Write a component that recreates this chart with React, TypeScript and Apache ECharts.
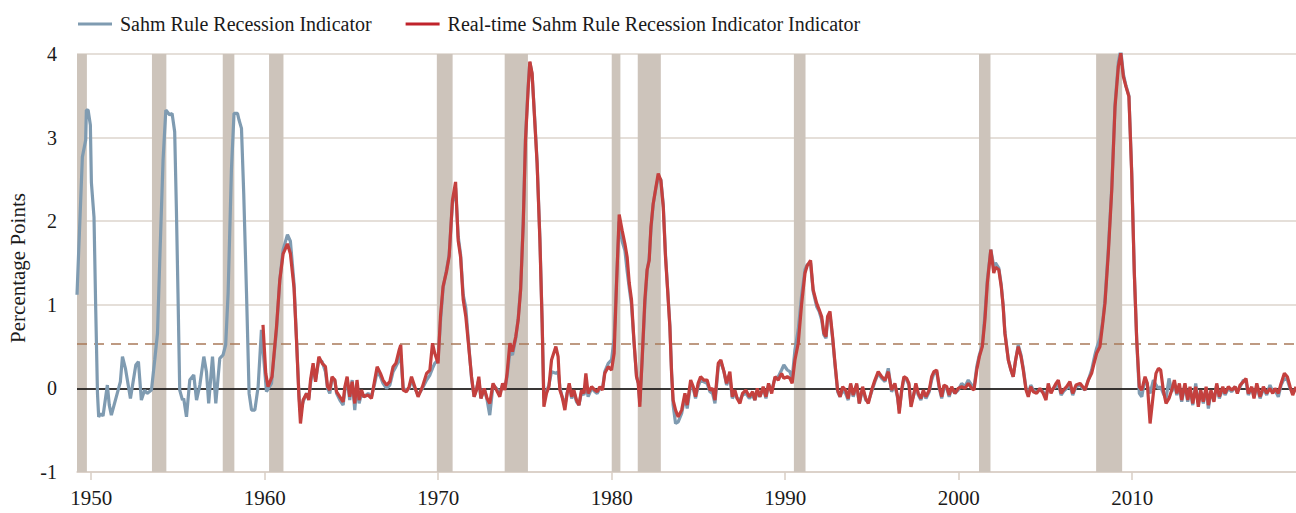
import React, { useEffect, useRef } from "react";
import * as echarts from "echarts";

// ---- Data (decimal years) ----
const sahmEarlyYears = [1949.18, 1949.49, 1949.68, 1949.72, 1949.82, 1949.95, 1950.01, 1950.16, 1950.26, 1950.36, 1950.43, 1950.55, 1950.68, 1950.93, 1951.04, 1951.16, 1951.55, 1951.68, 1951.80, 1951.97, 1952.26, 1952.57, 1952.72, 1952.89, 1953.08, 1953.22, 1953.47, 1953.66, 1953.82, 1953.95, 1954.14, 1954.30, 1954.53, 1954.66, 1954.81, 1954.91, 1955.00, 1955.10, 1955.26, 1955.33, 1955.49, 1955.68, 1955.91, 1956.07, 1956.26, 1956.49, 1956.64, 1956.77, 1956.99, 1957.18, 1957.41, 1957.60, 1957.75, 1957.89, 1958.08, 1958.23, 1958.43, 1958.52, 1958.66, 1958.79, 1958.95, 1959.10, 1959.24, 1959.43, 1959.62, 1959.81, 1960.10, 1960.39];
const sahmEarlyValues = [1.12, 2.77, 2.97, 3.33, 3.33, 3.15, 2.46, 2.05, 0.94, -0.06, -0.34, -0.30, -0.33, 0.04, -0.20, -0.32, -0.02, 0.08, 0.38, 0.24, -0.12, 0.28, 0.32, -0.14, -0.02, -0.06, -0.02, 0.34, 0.66, 1.53, 2.73, 3.33, 3.27, 3.29, 3.07, 2.13, 1.14, -0.02, -0.14, -0.12, -0.34, 0.10, 0.16, -0.14, 0.04, 0.38, 0.20, -0.18, 0.38, -0.18, 0.36, 0.40, 0.52, 1.14, 2.61, 3.29, 3.29, 3.21, 3.11, 2.33, 1.14, -0.06, -0.26, -0.26, 0.02, 0.70, -0.04, 0.06];

const realtimeEarlyYears = [1959.90, 1960.06, 1960.19, 1960.42];
const realtimeEarlyValues = [0.76, 0.18, 0.02, 0.14];

const sharedYears = [1960.68, 1960.87, 1961.06, 1961.31, 1961.48, 1961.69, 1961.83, 1961.98, 1962.06, 1962.21, 1962.41, 1962.54, 1962.64, 1962.79, 1962.93, 1963.12, 1963.31, 1963.50, 1963.62, 1963.75, 1963.88, 1964.04, 1964.14, 1964.33, 1964.52, 1964.62, 1964.75, 1964.90, 1965.04, 1965.19, 1965.32, 1965.44, 1965.58, 1965.71, 1965.96, 1966.15, 1966.34, 1966.48, 1966.67, 1966.82, 1967.02, 1967.21, 1967.40, 1967.56, 1967.75, 1967.84, 1967.98, 1968.17, 1968.32, 1968.46, 1968.65, 1968.84, 1969.09, 1969.33, 1969.52, 1969.67, 1969.80, 1969.99, 1970.13, 1970.28, 1970.48, 1970.63, 1970.82, 1971.00, 1971.15, 1971.29, 1971.44, 1971.59, 1971.72, 1971.92, 1972.07, 1972.21, 1972.34, 1972.46, 1972.65, 1972.82, 1972.97, 1973.16, 1973.36, 1973.55, 1973.71, 1973.84, 1973.97, 1974.13, 1974.28, 1974.47, 1974.61, 1974.75, 1974.90, 1975.03, 1975.18, 1975.28, 1975.41, 1975.57, 1975.70, 1975.86, 1975.99, 1976.09, 1976.24, 1976.38, 1976.53, 1976.78, 1976.91, 1977.01, 1977.14, 1977.30, 1977.43, 1977.55, 1977.69, 1977.82, 1977.97, 1978.11, 1978.26, 1978.40, 1978.51, 1978.64, 1978.84, 1979.03, 1979.16, 1979.32, 1979.47, 1979.60, 1979.80, 1979.99, 1980.14, 1980.28, 1980.43, 1980.60, 1980.76, 1980.89, 1981.01, 1981.14, 1981.28, 1981.43, 1981.53, 1981.62, 1981.76, 1981.91, 1982.04, 1982.16, 1982.26, 1982.39, 1982.55, 1982.68, 1982.83, 1982.97, 1983.10, 1983.22, 1983.35, 1983.45, 1983.54, 1983.68, 1983.83, 1984.03, 1984.22, 1984.35, 1984.55, 1984.70, 1984.83, 1984.98, 1985.12, 1985.31, 1985.50, 1985.66, 1985.81, 1985.95, 1986.14, 1986.29, 1986.47, 1986.62, 1986.81, 1986.95, 1987.10, 1987.23, 1987.39, 1987.54, 1987.73, 1987.93, 1988.12, 1988.25, 1988.39, 1988.54, 1988.73, 1988.89, 1989.04, 1989.22, 1989.41, 1989.60, 1989.79, 1989.92, 1990.12, 1990.27, 1990.40, 1990.56, 1990.75, 1990.95, 1991.14, 1991.27, 1991.46, 1991.61, 1991.81, 1991.96, 1992.10, 1992.23, 1992.35, 1992.44, 1992.58, 1992.73, 1992.87, 1993.02, 1993.16, 1993.31, 1993.48, 1993.63, 1993.77, 1993.92, 1994.12, 1994.27, 1994.46, 1994.64, 1994.79, 1994.98, 1995.17, 1995.36, 1995.56, 1995.75, 1995.94, 1996.13, 1996.32, 1996.48, 1996.57, 1996.71, 1996.84, 1997.00, 1997.13, 1997.25, 1997.38, 1997.53, 1997.67, 1997.82, 1997.96, 1998.11, 1998.30, 1998.44, 1998.57, 1998.73, 1998.88, 1999.02, 1999.15, 1999.31, 1999.45, 1999.59, 1999.78, 1999.97, 2000.17, 2000.36, 2000.55, 2000.75, 2000.88, 2001.04, 2001.19, 2001.36, 2001.51, 2001.65, 2001.85, 2002.02, 2002.12, 2002.31, 2002.45, 2002.56, 2002.66, 2002.86, 2003.01, 2003.14, 2003.28, 2003.43, 2003.59, 2003.72, 2003.88, 2004.01, 2004.15, 2004.30, 2004.49, 2004.68, 2004.87, 2005.03, 2005.16, 2005.32, 2005.45, 2005.61, 2005.74, 2005.90, 2006.03, 2006.22, 2006.41, 2006.57, 2006.76, 2006.99, 2007.15, 2007.28, 2007.47, 2007.66, 2007.85, 2007.95, 2008.14, 2008.30, 2008.43, 2008.62, 2008.82, 2009.01, 2009.20, 2009.34, 2009.49, 2009.64, 2009.81, 2009.97, 2010.12, 2010.26, 2010.41, 2010.55, 2010.74, 2010.87, 2011.03, 2011.22, 2011.37, 2011.51, 2011.64, 2011.79, 2011.95, 2012.12, 2012.28, 2012.43, 2012.57, 2012.72, 2012.85, 2013.04, 2013.20, 2013.33, 2013.49, 2013.66, 2013.81, 2013.95, 2014.10, 2014.26, 2014.39, 2014.54, 2014.71, 2014.87, 2015.02, 2015.22, 2015.35, 2015.54, 2015.74, 2015.93, 2016.06, 2016.22, 2016.41, 2016.56, 2016.69, 2016.89, 2017.02, 2017.18, 2017.37, 2017.56, 2017.75, 2017.94, 2018.10, 2018.23, 2018.42, 2018.58, 2018.77, 2018.94, 2019.10, 2019.25, 2019.44];

const realtimeValues = [0.74, 1.30, 1.61, 1.73, 1.61, 1.20, 0.58, -0.14, -0.42, -0.14, -0.06, -0.14, 0.10, 0.30, 0.08, 0.38, 0.30, 0.26, 0.02, -0.02, 0.14, 0.10, -0.04, -0.10, -0.16, 0.02, 0.14, -0.10, 0.08, -0.18, 0.10, -0.14, -0.02, -0.10, -0.08, -0.12, 0.10, 0.26, 0.18, 0.10, 0.04, 0.08, 0.26, 0.30, 0.46, 0.52, -0.02, -0.04, 0.02, 0.14, 0.02, -0.10, 0.02, 0.18, 0.22, 0.54, 0.42, 0.30, 0.86, 1.22, 1.40, 1.58, 2.25, 2.47, 1.77, 1.57, 1.06, 0.86, 0.58, 0.14, -0.10, -0.02, 0.14, -0.12, 0.00, -0.12, -0.18, 0.06, -0.02, -0.10, 0.06, -0.02, 0.18, 0.54, 0.44, 0.62, 0.82, 1.18, 1.97, 2.97, 3.57, 3.91, 3.77, 3.17, 2.69, 1.77, 0.78, -0.22, -0.06, 0.02, 0.34, 0.50, 0.38, -0.02, -0.10, -0.26, -0.06, 0.06, -0.10, -0.02, -0.14, -0.20, -0.02, -0.06, 0.18, -0.06, 0.02, -0.02, -0.04, 0.02, -0.02, 0.18, 0.26, 0.22, 0.42, 1.26, 2.08, 1.89, 1.73, 1.57, 1.26, 1.06, 0.58, 0.14, 0.06, -0.22, 0.38, 1.06, 1.42, 1.53, 1.93, 2.21, 2.41, 2.57, 2.49, 2.17, 1.57, 1.18, 0.74, 0.18, -0.14, -0.26, -0.34, -0.26, -0.06, -0.20, 0.10, 0.02, -0.10, 0.06, 0.14, 0.10, 0.10, -0.02, 0.00, -0.14, 0.30, 0.34, 0.20, 0.06, 0.20, -0.10, -0.02, -0.12, -0.18, -0.06, -0.02, -0.10, -0.04, -0.14, 0.00, -0.10, 0.02, -0.10, 0.06, -0.06, 0.14, 0.10, 0.18, 0.12, 0.14, 0.12, 0.06, 0.34, 0.54, 1.02, 1.38, 1.47, 1.53, 1.18, 1.02, 0.94, 0.86, 0.66, 0.62, 0.86, 0.92, 0.62, 0.30, -0.02, -0.10, 0.02, -0.02, -0.12, 0.06, -0.08, 0.06, -0.18, 0.02, -0.12, -0.18, -0.02, 0.10, 0.20, 0.14, 0.10, 0.20, -0.02, 0.06, -0.10, -0.30, -0.02, 0.14, 0.12, 0.06, -0.22, -0.10, 0.06, -0.06, -0.12, -0.02, -0.10, -0.02, 0.14, 0.20, 0.22, 0.02, -0.10, 0.04, 0.02, -0.08, 0.02, -0.06, 0.00, 0.02, 0.00, 0.06, 0.00, -0.02, 0.22, 0.38, 0.50, 0.82, 1.26, 1.66, 1.38, 1.45, 1.42, 1.22, 0.98, 0.66, 0.34, 0.22, 0.14, 0.34, 0.50, 0.38, 0.22, -0.02, -0.10, 0.02, -0.04, -0.06, 0.00, -0.06, -0.14, 0.06, -0.06, 0.00, 0.06, 0.10, -0.06, -0.02, 0.02, 0.08, -0.06, 0.04, 0.06, 0.02, -0.02, 0.10, 0.18, 0.34, 0.42, 0.50, 0.78, 1.02, 1.61, 2.37, 3.37, 3.85, 4.01, 3.73, 3.61, 3.49, 2.57, 1.38, 0.58, 0.02, -0.02, 0.14, 0.06, -0.42, -0.06, 0.18, 0.24, 0.22, -0.02, -0.18, -0.12, -0.02, 0.10, -0.06, 0.06, -0.14, 0.06, -0.14, 0.02, -0.18, 0.02, -0.22, -0.02, -0.16, 0.02, -0.20, -0.02, -0.16, 0.06, -0.10, 0.02, -0.06, 0.02, -0.02, 0.02, -0.06, 0.04, 0.08, 0.12, -0.06, 0.02, -0.12, 0.06, -0.10, 0.02, -0.06, 0.00, -0.06, 0.00, -0.06, 0.06, 0.18, 0.14, 0.02, -0.08, 0.02];

const sahmValues = [0.70, 1.30, 1.66, 1.84, 1.76, 1.25, 0.60, -0.10, -0.28, -0.16, -0.06, -0.12, 0.06, 0.26, 0.10, 0.34, 0.32, 0.20, 0.00, -0.06, 0.12, 0.10, -0.06, -0.14, -0.20, -0.02, 0.10, -0.14, 0.10, -0.26, 0.06, -0.18, -0.06, -0.10, -0.06, -0.10, 0.06, 0.20, 0.14, 0.06, 0.00, 0.04, 0.20, 0.26, 0.34, 0.40, 0.00, -0.02, 0.00, 0.10, 0.00, -0.08, 0.00, 0.10, 0.16, 0.24, 0.30, 0.34, 0.80, 1.20, 1.42, 1.60, 2.22, 2.40, 1.82, 1.60, 1.12, 0.96, 0.62, 0.12, -0.10, 0.00, 0.10, -0.12, 0.00, -0.14, -0.32, 0.04, 0.00, -0.06, 0.04, 0.00, 0.14, 0.44, 0.40, 0.60, 0.84, 1.20, 2.00, 3.00, 3.60, 3.90, 3.76, 3.20, 2.70, 1.80, 0.80, -0.12, -0.04, 0.04, 0.20, 0.18, 0.20, 0.02, -0.10, -0.20, -0.06, 0.04, -0.12, -0.04, -0.16, -0.20, -0.04, -0.08, 0.06, -0.10, 0.00, -0.04, -0.06, 0.00, 0.00, 0.20, 0.30, 0.34, 0.60, 1.30, 2.00, 1.76, 1.65, 1.40, 1.20, 1.00, 0.56, 0.14, 0.06, -0.16, 0.36, 1.00, 1.40, 1.56, 1.90, 2.20, 2.40, 2.52, 2.50, 2.20, 1.60, 1.20, 0.76, 0.20, -0.20, -0.42, -0.40, -0.30, -0.10, -0.24, 0.04, 0.00, -0.12, 0.02, 0.10, 0.08, 0.06, -0.04, -0.06, -0.18, 0.26, 0.32, 0.20, 0.04, 0.14, -0.12, -0.06, -0.12, -0.14, -0.08, -0.06, -0.12, -0.08, -0.14, -0.04, -0.10, 0.00, -0.12, 0.04, -0.02, 0.12, 0.14, 0.22, 0.28, 0.22, 0.20, 0.12, 0.46, 0.70, 1.12, 1.42, 1.48, 1.50, 1.16, 0.98, 0.92, 0.82, 0.64, 0.60, 0.82, 0.88, 0.60, 0.28, -0.04, -0.10, -0.02, -0.06, -0.14, 0.04, -0.10, 0.04, -0.18, 0.00, -0.14, -0.16, -0.04, 0.08, 0.18, 0.12, 0.08, 0.24, -0.04, 0.04, -0.12, -0.26, -0.04, 0.12, 0.10, 0.04, -0.18, -0.10, 0.02, -0.08, -0.14, -0.04, -0.12, -0.04, 0.10, 0.18, 0.20, 0.00, -0.12, 0.00, 0.00, -0.10, 0.00, -0.06, -0.02, 0.06, 0.02, 0.10, 0.04, 0.00, 0.26, 0.40, 0.52, 0.88, 1.30, 1.66, 1.46, 1.50, 1.44, 1.24, 1.00, 0.68, 0.34, 0.22, 0.14, 0.34, 0.52, 0.40, 0.24, 0.00, -0.08, 0.04, -0.02, -0.04, -0.02, -0.04, -0.10, 0.02, -0.04, 0.00, 0.02, 0.06, -0.08, -0.04, 0.00, 0.04, -0.08, 0.02, 0.04, 0.00, -0.02, 0.10, 0.22, 0.40, 0.48, 0.60, 0.80, 1.06, 1.66, 2.40, 3.40, 3.90, 4.05, 3.76, 3.62, 3.50, 2.60, 1.40, 0.56, -0.06, -0.10, 0.12, 0.04, -0.06, 0.10, 0.04, 0.00, 0.02, -0.06, -0.12, 0.12, -0.04, 0.06, -0.08, 0.02, -0.16, 0.04, -0.16, 0.00, -0.20, 0.06, -0.18, -0.04, -0.18, 0.00, -0.24, -0.04, -0.14, 0.04, -0.12, 0.00, -0.08, 0.00, -0.04, 0.02, -0.04, 0.02, 0.10, 0.08, -0.08, 0.00, -0.10, 0.02, -0.12, 0.00, -0.08, 0.04, -0.04, -0.02, -0.10, 0.04, 0.12, 0.10, 0.00, -0.06, 0.00];

// NBER recessions (decimal years)
const recessionStarts = [1948.83, 1953.5, 1957.58, 1960.25, 1969.92, 1973.83, 1980.0, 1981.5, 1990.5, 2001.17, 2007.92];
const recessionEnds = [1949.75, 1954.33, 1958.25, 1961.08, 1970.83, 1975.17, 1980.5, 1982.83, 1991.17, 2001.83, 2009.42];

const xTickYears = [1950, 1960, 1970, 1980, 1990, 2000, 2010];
const yMin = -1;
const yMax = 4;
const thresholdValue = 0.53;

const X_MIN = 1949.18;
const X_MAX = 2019.44;

const FONT = "'Liberation Serif', 'DejaVu Serif', serif";

export default function App() {
  const ref = useRef<HTMLDivElement>(null);

  useEffect(() => {
    if (!ref.current) return;
    const chart = echarts.init(ref.current, null, { renderer: "svg" });

    const sahmData: [number, number][] = [];
    sahmEarlyYears.forEach((y, i) => sahmData.push([y, sahmEarlyValues[i]]));
    sharedYears.forEach((y, i) => sahmData.push([y, sahmValues[i]]));

    const rtData: [number, number][] = [];
    realtimeEarlyYears.forEach((y, i) => rtData.push([y, realtimeEarlyValues[i]]));
    sharedYears.forEach((y, i) => rtData.push([y, realtimeValues[i]]));

    const areas = recessionStarts.map((s, i) => [
      { xAxis: Math.max(s, X_MIN) },
      { xAxis: recessionEnds[i] },
    ]);

    chart.setOption({
      animation: false,
      backgroundColor: "#ffffff",
      textStyle: { fontFamily: FONT },
      grid: { left: 77, right: 0, top: 54, bottom: 41, containLabel: false, outerBoundsMode: "none" },
      legend: {
        top: 9,
        left: 73,
        icon: "rect",
        itemWidth: 34,
        itemHeight: 3,
        itemGap: 34,
        textStyle: { fontFamily: FONT, fontSize: 20, color: "#1a1a1a", padding: [0, 0, 0, 3] },
        data: ["Sahm Rule Recession Indicator", "Real-time Sahm Rule Recession Indicator Indicator"],
      },
      graphic: [
        {
          type: "text",
          x: 18,
          y: 268,
          rotation: Math.PI / 2,
          style: {
            text: "Percentage Points",
            font: "21px 'Liberation Serif', serif",
            fill: "#1a1a1a",
            align: "center",
            verticalAlign: "middle",
          },
        },
      ],
      xAxis: {
        type: "value",
        min: X_MIN,
        max: X_MAX,
        axisLine: { show: true, onZero: false, lineStyle: { color: "#d9cec5", width: 1.5 } },
        axisTick: {
          show: true,
          length: 8,
          customValues: xTickYears,
          lineStyle: { color: "#d9cec5", width: 1.5 },
        },
        axisLabel: {
          customValues: xTickYears,
          formatter: (v: number) => String(Math.round(v)),
          fontFamily: FONT,
          fontSize: 21,
          color: "#1a1a1a",
          margin: 15,
        },
        splitLine: { show: false },
      },
      yAxis: {
        type: "value",
        min: yMin,
        max: yMax,
        interval: 1,
        axisLine: { show: false },
        axisTick: { show: false },
        axisLabel: { fontFamily: FONT, fontSize: 20, color: "#1a1a1a", margin: 20 },
        splitLine: { show: true, lineStyle: { color: "#ddd4cc", width: 1.5 } },
      },
      series: [
        {
          name: "Sahm Rule Recession Indicator",
          type: "line",
          data: sahmData,
          showSymbol: false,
          symbol: "none",
          color: "#7f9bb1",
          lineStyle: { color: "#7f9bb1", width: 3.2 },
          z: 3,
          markArea: {
            silent: true,
            z: 1,
            itemStyle: { color: "#cdc4bb", opacity: 1 },
            data: areas,
          },
          markLine: {
            silent: true,
            symbol: "none",
            z: 2,
            label: { show: false },
            data: [
              { yAxis: 0, lineStyle: { color: "#000000", width: 1.5, type: "solid" } },
              { yAxis: thresholdValue, lineStyle: { color: "#a9795a", width: 1.5, type: [10, 7] } },
            ],
          },
        },
        {
          name: "Real-time Sahm Rule Recession Indicator Indicator",
          type: "line",
          data: rtData,
          showSymbol: false,
          symbol: "none",
          color: "#c0232b",
          lineStyle: { color: "#c4403e", width: 3.2 },
          z: 4,
        },
      ],
    });

    return () => chart.dispose();
  }, []);

  return (
    <div
      ref={ref}
      style={{ position: "fixed", left: 0, top: 0, width: 1296, height: 513, background: "#fff" }}
    />
  );
}
